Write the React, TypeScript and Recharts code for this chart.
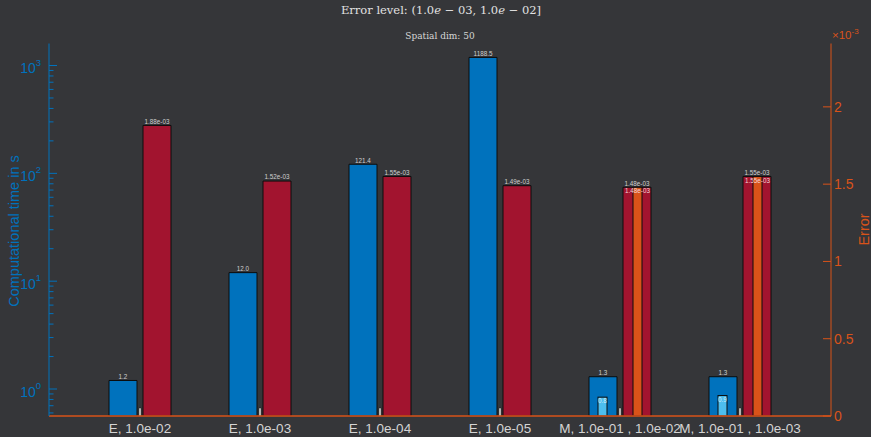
import React from 'react';
import { ComposedChart, Bar, XAxis, YAxis, LabelList } from 'recharts';

// ---- data ----
const categories = [
  'E, 1.0e-02',
  'E, 1.0e-03',
  'E, 1.0e-04',
  'E, 1.0e-05',
  'M, 1.0e-01 , 1.0e-02',
  'M, 1.0e-01 , 1.0e-03',
];
// total computational time in seconds (left, log axis)
const totalTime = [1.2, 12.0, 121.4, 1188.5, 1.3, 1.3];
// online part of the time for the multi-fidelity runs
const onlineTime: (number | null)[] = [null, null, null, null, 0.84, 0.87];
// achieved error (right, linear axis)
const totalError = [1.88e-3, 1.52e-3, 1.55e-3, 1.49e-3, 1.48e-3, 1.55e-3];
const onlineError: (number | null)[] = [null, null, null, null, 1.48e-3, 1.55e-3];
// small reference marks between the bar pairs
const referenceMark = [5.2e-5, 5.2e-5, 5.2e-5, 5.2e-5, 5.2e-5, 5.2e-5];

const timeTicks = [
  0.6, 0.7, 0.8, 0.9,
  1, 2, 3, 4, 5, 6, 7, 8, 9,
  10, 20, 30, 40, 50, 60, 70, 80, 90,
  100, 200, 300, 400, 500, 600, 700, 800, 900,
  1000,
];
const errorTicks = [0, 0.5e-3, 1e-3, 1.5e-3, 2e-3];
const timeDomain = [0.562, 1600];
const errorDomain = [0, 2.41e-3];

const titleText = 'Error level: ';
const subtitleText = 'Spatial dim: 50';
const leftAxisTitle = 'Computational time in s';
const rightAxisTitle = 'Error';

const data = categories.map((name, i) => ({
  name,
  time: totalTime[i],
  timeOnline: onlineTime[i],
  error: totalError[i],
  errorOnline: onlineError[i],
  mark: referenceMark[i],
}));

// ---- styling ----
const BG = '#353639';
const BLUE = '#0072BD';
const LIGHTBLUE = '#4DBEEE';
const RED = '#A2142F';
const ORANGE = '#D95319';
const EDGE = '#0c0c0c';
const SANS = '"Liberation Sans", Arial, Helvetica, sans-serif';
const SERIF = '"DejaVu Serif", "Liberation Serif", serif';

const fmtExp = (v: number) => {
  const [m, e] = v.toExponential(2).split('e');
  const n = Number(e);
  return `${m}e${n < 0 ? '-' : '+'}${String(Math.abs(n)).padStart(2, '0')}`;
};
const fmtFixed = (v: number) => v.toFixed(1);

const makeLabel =
  (fmt: (v: number) => string, color: string, inside: boolean) => (props: any) => {
    const { value } = props;
    if (value == null) return null;
    const vb = props.viewBox ?? props;
    if (!Number.isFinite(vb.x) || !Number.isFinite(vb.y)) return null;
    const cx = vb.x + vb.width / 2;
    const y = inside ? vb.y + 6.2 : vb.y - 1.6;
    return (
      <text x={cx} y={y} textAnchor="middle" fill={color} fontSize={6.3} fontFamily={SANS}>
        {fmt(value)}
      </text>
    );
  };

const optionalBar = (key: string) => (props: any) => {
  const v = props.payload?.[key];
  const { x, y, width, height, fill } = props;
  if (v == null || ![x, y, width, height].every(Number.isFinite)) return <g />;
  return <rect x={x} y={y} width={width} height={height} fill={fill} stroke={EDGE} strokeWidth={1} />;
};

const TimeTick = (props: any) => {
  const { x, y, payload } = props;
  const v = payload.value as number;
  const lg = Math.log10(v);
  const exp = Math.round(lg);
  const major = Math.abs(lg - exp) < 1e-9;
  return (
    <g>
      <line x1={x} x2={x + (major ? 8 : 4.5)} y1={y} y2={y} stroke={BLUE} strokeWidth={1} />
      {major && (
        <text x={x - 8} y={y + 7.5} textAnchor="end" fill={BLUE} fontSize={14} fontFamily={SANS}>
          10
          <tspan dy={-7.5} fontSize={9.5}>
            {exp}
          </tspan>
        </text>
      )}
    </g>
  );
};

const ErrorTick = (props: any) => {
  const { x, y, payload } = props;
  const scaled = Math.round((payload.value as number) * 1e4) / 10;
  return (
    <g>
      <line x1={x - 8} x2={x} y1={y} y2={y} stroke={ORANGE} strokeWidth={1} />
      <text x={x + 3} y={y + 5} textAnchor="start" fill={ORANGE} fontSize={14} fontFamily={SANS}>
        {String(scaled)}
      </text>
    </g>
  );
};

export default function App() {
  return (
    <div
      style={{
        position: 'fixed',
        left: 0,
        top: 0,
        width: 871,
        height: 437,
        background: BG,
        overflow: 'hidden',
      }}
    >
      <ComposedChart
        width={871}
        height={437}
        data={data}
        margin={{ top: 43.5, right: 0, bottom: 0, left: 0 }}
        barGap={2}
      >
        <XAxis
          xAxisId="main"
          dataKey="name"
          height={21}
          padding={{ left: 31, right: 31 }}
          interval={0}
          tickLine={false}
          tickSize={0}
          tickMargin={7}
          axisLine={{ stroke: ORANGE, strokeWidth: 1.5 }}
          tick={{ fill: '#d4d4d4', fontSize: 13.5, fontFamily: SANS }}
        />
        <XAxis
          xAxisId="inner"
          dataKey="name"
          orientation="top"
          height={0}
          hide
          padding={{ left: 31, right: 31 }}
        />
        <YAxis
          yAxisId="time"
          orientation="left"
          type="number"
          scale="log"
          domain={timeDomain}
          allowDataOverflow
          ticks={timeTicks}
          interval={0}
          width={49}
          tickLine={false}
          tickSize={0}
          tickMargin={0}
          axisLine={{ stroke: BLUE, strokeWidth: 1 }}
          tick={<TimeTick />}
        />
        <YAxis
          yAxisId="error"
          orientation="right"
          type="number"
          domain={errorDomain}
          allowDataOverflow
          ticks={errorTicks}
          interval={0}
          width={40}
          tickLine={false}
          tickSize={0}
          tickMargin={0}
          axisLine={{ stroke: ORANGE, strokeWidth: 1 }}
          tick={<ErrorTick />}
        />

        {/* outer bars: time, reference mark, error */}
        <Bar
          xAxisId="main"
          yAxisId="time"
          dataKey="time"
          barSize={28}
          fill={BLUE}
          stroke={EDGE}
          strokeWidth={1}
          isAnimationActive={false}
        >
          <LabelList dataKey="time" content={makeLabel(fmtFixed, '#cfcfcf', false)} />
        </Bar>
        <Bar
          xAxisId="main"
          yAxisId="error"
          dataKey="mark"
          barSize={2}
          fill="#e4e4e4"
          stroke="#202020"
          strokeWidth={0.5}
          isAnimationActive={false}
        />
        <Bar
          xAxisId="main"
          yAxisId="error"
          dataKey="error"
          barSize={28}
          fill={RED}
          stroke={EDGE}
          strokeWidth={1}
          isAnimationActive={false}
        >
          <LabelList dataKey="error" content={makeLabel(fmtExp, '#cfcfcf', false)} />
        </Bar>

        {/* inner bars: online part, centred inside the outer bars */}
        <Bar
          xAxisId="inner"
          yAxisId="time"
          dataKey="timeOnline"
          barSize={9}
          fill={LIGHTBLUE}
          shape={optionalBar('timeOnline')}
          isAnimationActive={false}
        >
          <LabelList dataKey="timeOnline" content={makeLabel(fmtFixed, '#d6ecf8', true)} />
        </Bar>
        <Bar
          xAxisId="inner"
          yAxisId="error"
          dataKey="innerGap"
          barSize={22}
          fill="none"
          shape={() => <g />}
          isAnimationActive={false}
        />
        <Bar
          xAxisId="inner"
          yAxisId="error"
          dataKey="errorOnline"
          barSize={9}
          fill={ORANGE}
          shape={optionalBar('errorOnline')}
          isAnimationActive={false}
        >
          <LabelList dataKey="errorOnline" content={makeLabel(fmtExp, '#f4d6d6', true)} />
        </Bar>
      </ComposedChart>

      <svg
        width={871}
        height={437}
        style={{ position: 'absolute', left: 0, top: 0, pointerEvents: 'none' }}
      >
        <text x={441} y={14} textAnchor="middle" fill="#e2e2e2" fontSize={11.5} fontFamily={SERIF}>
          {titleText}(1.0<tspan fontStyle="italic">e</tspan> − 03, 1.0
          <tspan fontStyle="italic">e</tspan> − 02]
        </text>
        <text x={440} y={39} textAnchor="middle" fill="#d6d6d6" fontSize={9} fontFamily={SERIF}>
          {subtitleText}
        </text>
        <text x={832} y={39} fill={ORANGE} fontSize={11.5} fontFamily={SANS}>
          ×10
          <tspan dy={-5.5} fontSize={8}>
            -3
          </tspan>
        </text>
        <text
          transform="translate(18.5, 231) rotate(-90)"
          textAnchor="middle"
          fill={BLUE}
          fontSize={14.5}
          fontFamily={SANS}
        >
          {leftAxisTitle}
        </text>
        <text
          transform="translate(869, 229.5) rotate(-90)"
          textAnchor="middle"
          fill={ORANGE}
          fontSize={14.5}
          fontFamily={SANS}
        >
          {rightAxisTitle}
        </text>
      </svg>
    </div>
  );
}
